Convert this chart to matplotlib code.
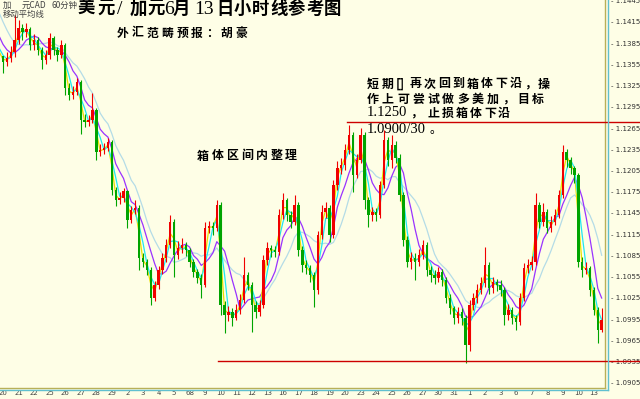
import matplotlib
matplotlib.use('Agg')
import matplotlib.pyplot as plt
import numpy as np
import pandas as pd
from matplotlib.lines import Line2D

# ---------------- data ----------------
day_labels = ['20', '21', '22', '25', '26', '27', '28', '29', '2', '3', '4', '5', '68', '9',
              '10', '11', '12', '13', '16', '17', '18', '19', '20', '23', '24', '25', '26',
              '27', '30', '31', '1', '2', '3', '6', '7', '8', '9', '10', '13']
bars_per_day = 4

# closes before the visible window (only seed the moving averages)
warmup_closes = [1.1485, 1.1480, 1.1474, 1.1470, 1.1428, 1.1410, 1.1398, 1.1388, 1.1380, 1.1366]

closes = [
    1.1358, 1.1364, 1.1372, 1.1389, 1.1406, 1.1401, 1.1404, 1.1382, 1.1389, 1.1375,
    1.1361, 1.1368, 1.1392, 1.1375, 1.1368, 1.1382, 1.1322, 1.1312, 1.1316, 1.1330,
    1.1276, 1.1273, 1.1276, 1.1290, 1.1231, 1.1234, 1.1237, 1.1245, 1.1177, 1.1163,
    1.1166, 1.1175, 1.1135, 1.1149, 1.1152, 1.1081, 1.1076, 1.1064, 1.1025, 1.1043,
    1.1064, 1.1081, 1.1100, 1.1132, 1.1085, 1.1095, 1.1100, 1.1092, 1.1076, 1.1061,
    1.1053, 1.1043, 1.1124, 1.1126, 1.1124, 1.1156, 1.1015, 1.1001, 1.1005, 1.0996,
    1.1008, 1.1022, 1.1057, 1.1043, 1.1015, 1.1005, 1.1015, 1.1078, 1.1095, 1.1092,
    1.1090, 1.1142, 1.1163, 1.1142, 1.1132, 1.1156, 1.1092, 1.1071, 1.1067, 1.1057,
    1.1036, 1.1114, 1.1146, 1.1152, 1.1114, 1.1184, 1.1208, 1.1213, 1.1234, 1.1255,
    1.1199, 1.1220, 1.1255, 1.1163, 1.1142, 1.1146, 1.1142, 1.1184, 1.1248, 1.1220,
    1.1241, 1.1223, 1.1170, 1.1107, 1.1076, 1.1081, 1.1076, 1.1085, 1.1100, 1.1064,
    1.1057, 1.1053, 1.1061, 1.1050, 1.1025, 1.1010, 1.0996, 1.1005, 1.0996, 1.0958,
    1.1015, 1.1025, 1.1036, 1.1046, 1.1071, 1.1039, 1.1047, 1.1043, 1.1036, 1.1001,
    1.1008, 1.0996, 1.0991, 1.1025, 1.1067, 1.1071, 1.1076, 1.1156, 1.1132, 1.1146,
    1.1124, 1.1132, 1.1142, 1.1170, 1.1231, 1.1220, 1.1208, 1.1199, 1.1076, 1.1064,
    1.1067, 1.1036, 1.1008, 1.0979, 1.0994]

highs = [
    1.1366, 1.1372, 1.1381, 1.1425, 1.1418, 1.1412, 1.1413, 1.1408, 1.1398, 1.1393,
    1.1379, 1.1375, 1.1400, 1.1395, 1.1380, 1.1389, 1.1385, 1.1328, 1.1324, 1.1336,
    1.1333, 1.1285, 1.1284, 1.1314, 1.1294, 1.1242, 1.1244, 1.1251, 1.1248, 1.1182,
    1.1174, 1.1180, 1.1178, 1.1155, 1.1163, 1.1156, 1.1088, 1.1080, 1.1068, 1.1049,
    1.1070, 1.1088, 1.1108, 1.1142, 1.1136, 1.1106, 1.1110, 1.1104, 1.1096, 1.1080,
    1.1066, 1.1058, 1.1132, 1.1134, 1.1132, 1.1163, 1.1160, 1.1020, 1.1014, 1.1010,
    1.1016, 1.1030, 1.1082, 1.1062, 1.1048, 1.1020, 1.1022, 1.1086, 1.1104, 1.1100,
    1.1098, 1.1150, 1.1173, 1.1166, 1.1148, 1.1170, 1.1160, 1.1098, 1.1078, 1.1072,
    1.1062, 1.1120, 1.1156, 1.1160, 1.1156, 1.1192, 1.1218, 1.1222, 1.1242, 1.1269,
    1.1260, 1.1228, 1.1265, 1.1260, 1.1168, 1.1154, 1.1152, 1.1190, 1.1262, 1.1252,
    1.1255, 1.1246, 1.1228, 1.1174, 1.1112, 1.1090, 1.1088, 1.1094, 1.1107, 1.1104,
    1.1070, 1.1064, 1.1068, 1.1066, 1.1054, 1.1030, 1.1014, 1.1012, 1.1010, 1.1000,
    1.1022, 1.1032, 1.1044, 1.1054, 1.1097, 1.1076, 1.1054, 1.1052, 1.1050, 1.1040,
    1.1016, 1.1012, 1.1000, 1.1032, 1.1074, 1.1080, 1.1084, 1.1173, 1.1160, 1.1159,
    1.1150, 1.1140, 1.1150, 1.1178, 1.1241, 1.1236, 1.1224, 1.1212, 1.1202, 1.1082,
    1.1075, 1.1070, 1.1040, 1.1012, 1.1010]

lows = [
    1.1343, 1.1352, 1.1359, 1.1366, 1.1384, 1.1390, 1.1393, 1.1375, 1.1376, 1.1368,
    1.1348, 1.1355, 1.1362, 1.1368, 1.1360, 1.1364, 1.1312, 1.1305, 1.1306, 1.1312,
    1.1256, 1.1266, 1.1268, 1.1272, 1.1220, 1.1226, 1.1229, 1.1233, 1.1170, 1.1155,
    1.1158, 1.1161, 1.1124, 1.1131, 1.1143, 1.1064, 1.1068, 1.1057, 1.1015, 1.1020,
    1.1038, 1.1058, 1.1076, 1.1096, 1.1054, 1.1080, 1.1088, 1.1084, 1.1068, 1.1054,
    1.1046, 1.1025, 1.1040, 1.1116, 1.1114, 1.1120, 1.1001, 1.0975, 1.0992, 1.0985,
    1.0994, 1.1002, 1.1018, 1.1036, 1.0976, 1.0996, 1.0999, 1.1010, 1.1072, 1.1083,
    1.1082, 1.1086, 1.1136, 1.1134, 1.1124, 1.1128, 1.1084, 1.1062, 1.1058, 1.1048,
    1.1012, 1.1030, 1.1108, 1.1138, 1.1104, 1.1110, 1.1178, 1.1200, 1.1206, 1.1228,
    1.1175, 1.1194, 1.1216, 1.1150, 1.1125, 1.1134, 1.1133, 1.1138, 1.1180, 1.1212,
    1.1208, 1.1215, 1.1162, 1.1098, 1.1068, 1.1066, 1.1050, 1.1070, 1.1080, 1.1056,
    1.1048, 1.1044, 1.1048, 1.1042, 1.1018, 1.1002, 1.0988, 1.0990, 1.0986, 1.0933,
    1.0950, 1.1008, 1.1018, 1.1030, 1.1040, 1.1030, 1.1032, 1.1035, 1.1028, 1.0987,
    1.0994, 1.0988, 1.0980, 1.0986, 1.1020, 1.1060, 1.1065, 1.1072, 1.1124, 1.1126,
    1.1116, 1.1118, 1.1128, 1.1138, 1.1166, 1.1210, 1.1200, 1.1188, 1.1068, 1.1055,
    1.1058, 1.1028, 1.1000, 1.0961, 1.0976]

ma_periods = [3, 2, 6, 10]
ma_colors = ['#20e8f0', '#e8e000', '#9933ff', '#b4dce6']

y_ticks = [1.1445, 1.1415, 1.1385, 1.1355, 1.1325, 1.1295, 1.1265, 1.1235, 1.1205, 1.1175,
           1.1145, 1.1115, 1.1085, 1.1055, 1.1025, 1.0995, 1.0965, 1.0935, 1.0905]
y_top, y_bottom = 1.1446, 1.08975

box_top = 1.1274
box_bottom = 1.0935

# ---------------- figure ----------------
BG = '#fefee6'
W, H = 640, 399
fig = plt.figure(figsize=(W / 100, H / 100), dpi=100)
fig.patch.set_facecolor(BG)
ax = fig.add_axes([0, 11 / H, 605 / W, 388 / H])
ax.set_facecolor(BG)

c = np.array(closes)
hi = np.array(highs)
lo = np.array(lows)
n = len(c)
x = np.arange(n)
o = np.concatenate([[warmup_closes[-1]], c[:-1]])
up = c >= o
col = np.where(up, '#f00000', '#00a400')

# moving averages
allc = pd.Series(np.concatenate([warmup_closes, closes]))
xa = np.arange(-len(warmup_closes), n)
for p, mc in zip(ma_periods[::-1], ma_colors[::-1]):
    m = allc.rolling(p, min_periods=1).mean().values
    k0 = len(warmup_closes) - 1
    ax.plot(xa[k0:], m[k0:], color=mc, lw=0.9, zorder=2)

# candles
ax.vlines(x, lo, hi, colors=col, lw=0.8, zorder=3)
ax.bar(x, np.abs(c - o) + 0.00003, bottom=np.minimum(c, o), width=0.62,
       color=col, edgecolor='none', zorder=4)

ax.set_xlim(-3 / 3.8875, 602 / 3.8875)
ax.set_ylim(y_bottom, y_top)

# box lines (extend into the price-label column)
ax.axhline(box_top, xmin=347 / 605, xmax=640 / 605, color='#cc0000', lw=1,
           clip_on=False, zorder=5)
ax.axhline(box_bottom, xmin=218 / 605, xmax=640 / 605, color='#cc0000', lw=1,
           clip_on=False, zorder=5)

# axes cosmetics
ax.yaxis.tick_right()
ax.set_yticks(y_ticks)
ax.set_yticklabels(['- %.4f' % v for v in y_ticks])
ax.tick_params(axis='y', length=0, pad=4, labelsize=5, labelcolor='#303030')
ax.set_xticks(np.arange(len(day_labels)) * bars_per_day)
ax.set_xticklabels(day_labels)
ax.tick_params(axis='x', length=0, pad=1.5, labelsize=5, labelcolor='#404040')
for s in ['left', 'top']:
    ax.spines[s].set_visible(False)
for s in ['bottom', 'right']:
    ax.spines[s].set_color('#b8b058')
    ax.spines[s].set_linewidth(1)
fig.add_artist(Line2D([0, 607.5 / W], [1 - 390 / H] * 2, color='#60c0d0', lw=1))
fig.add_artist(Line2D([607.5 / W] * 2, [1, 1 - 390 / H], color='#60c0d0', lw=1))

# ---------------- texts ----------------
CJK = ['Noto Sans CJK SC', 'DejaVu Sans']
SER = ['Liberation Serif', 'Noto Sans CJK SC', 'DejaVu Sans']


def ftext(px, py, s, size, family, weight='normal', color='black'):
    fig.text(px / W, 1 - py / H, s, fontsize=size, family=family, weight=weight,
             color=color, ha='left', va='center')


def spaced(px, py, chars, step, size, weight='bold'):
    for i, ch in enumerate(chars):
        ftext(px + i * step, py, ch, size, CJK, weight)


# top-left info
ftext(3, 5, '加', 6, CJK, color='#404040')
ftext(22, 5, '元CAD', 6, CJK, color='#404040')
ftext(52, 5, '60分钟', 6, CJK, color='#404040')
ftext(3, 14, '移动平均线', 6, CJK, color='#404040')

# title
ty = 9
ftext(78, ty, '美', 12.5, CJK, 'bold')
ftext(97, ty, '元', 12.5, CJK, 'bold')
ftext(117, ty, '/', 14, SER)
ftext(130, ty, '加', 12.5, CJK, 'bold')
ftext(147, ty, '元', 12.5, CJK, 'bold')
ftext(164, ty + 0.5, '6', 14, SER)
ftext(173, ty, '月', 12.5, CJK, 'bold')
ftext(194, ty + 0.5, '13', 14, SER)
spaced(216, ty, '日小时线参考图', 18.0, 12.5)

# subtitle
spaced(117, 33, '外汇范畴预报：胡豪', 14.8, 8.5)

# annotation block
spaced(367, 84, ['短', '期', '[]', '再', '次', '回', '到', '箱', '体', '下', '沿', '，', '操'],
       14.25, 8.6)
spaced(367, 99, '作上可尝试做多美加，目标', 15.0, 8.6)
ftext(367, 113, '1.1250', 10.5, SER)
spaced(410, 113, '，', 14, 8.6)
spaced(428, 113, '止损箱体下沿', 14, 8.6)
ftext(367, 129.5, '1.0900/30', 10.5, SER)
ftext(430, 129.5, '。', 8.6, CJK)

# middle note
spaced(197, 156, '箱体区间内整理', 14.7, 8.6)

fig.savefig('out.png', dpi=100, facecolor=BG)
